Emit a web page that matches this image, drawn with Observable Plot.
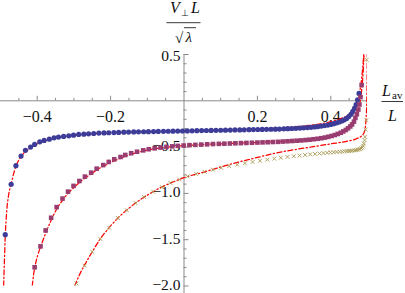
<!DOCTYPE html>
<html><head><meta charset="utf-8">
<script src="https://cdn.jsdelivr.net/npm/d3@7"></script>
<script src="https://cdn.jsdelivr.net/npm/@observablehq/plot@0.6"></script>
<style>html,body{margin:0;padding:0;background:#fff;} svg{display:block;} svg text{font-family:"Liberation Serif",serif;}</style>
</head><body><div id="chart"></div>
<script>
// ---- data ----
const blue = [[-0.487,-1.446],[-0.471,-0.901],[-0.458,-0.701],[-0.444,-0.597],[-0.432,-0.535],[-0.418,-0.500],[-0.407,-0.471],[-0.393,-0.443],[-0.381,-0.428],[-0.367,-0.414],[-0.354,-0.400],[-0.342,-0.392],[-0.328,-0.385],[-0.314,-0.378],[-0.301,-0.371],[-0.287,-0.363],[-0.273,-0.360],[-0.260,-0.357],[-0.246,-0.353],[-0.232,-0.349],
[-0.218,-0.347],[-0.205,-0.345],[-0.191,-0.343],[-0.178,-0.341],[-0.164,-0.339],[-0.151,-0.338],[-0.137,-0.336],[-0.124,-0.335],[-0.110,-0.334],[-0.097,-0.333],[-0.083,-0.332],[-0.070,-0.331],[-0.056,-0.330],[-0.043,-0.329],[-0.030,-0.328],[-0.017,-0.327],[-0.004,-0.326],[0.009,-0.325],[0.022,-0.324],[0.035,-0.323],[0.048,-0.322],[0.061,-0.321],[0.074,-0.320],[0.087,-0.319],[0.100,-0.318],[0.113,-0.317],[0.126,-0.316],[0.139,-0.315],[0.152,-0.314],[0.164,-0.313],[0.177,-0.312],[0.189,-0.311],[0.201,-0.310],[0.213,-0.309],[0.225,-0.308],[0.237,-0.307],[0.249,-0.306],[0.260,-0.305],[0.272,-0.303],[0.283,-0.301],[0.294,-0.299],[0.305,-0.297],[0.316,-0.295],[0.326,-0.292],[0.336,-0.289],[0.346,-0.286],[0.356,-0.282],[0.365,-0.278],[0.374,-0.273],[0.383,-0.268],[0.392,-0.262],[0.400,-0.255],[0.408,-0.247],[0.416,-0.238],[0.423,-0.229],[0.430,-0.218],[0.437,-0.205],[0.443,-0.190],[0.449,-0.170],[0.455,-0.145],[0.460,-0.115],[0.465,-0.080],[0.469,-0.040],[0.473,0.010],[0.477,0.080]];

const squares = [[-0.407,-1.798],[-0.391,-1.572],[-0.377,-1.400],[-0.362,-1.263],[-0.347,-1.148],[-0.331,-1.056],[-0.316,-0.981],[-0.301,-0.919],[-0.285,-0.866],[-0.270,-0.819],[-0.253,-0.776],[-0.238,-0.733],[-0.220,-0.694],[-0.205,-0.660],[-0.190,-0.632],[-0.173,-0.607],[-0.160,-0.585],[-0.144,-0.566],[-0.128,-0.550],[-0.111,-0.535],[-0.096,-0.523],[-0.080,-0.513],[-0.064,-0.505],[-0.048,-0.498],[-0.032,-0.492],[-0.017,-0.487],[-0.001,-0.483],[0.015,-0.479],[0.031,-0.476],[0.047,-0.473],[0.063,-0.470],[0.079,-0.467],[0.095,-0.465],[0.110,-0.463],[0.125,-0.461],[0.140,-0.459],[0.155,-0.457],[0.170,-0.455],[0.185,-0.453],[0.200,-0.451],[0.214,-0.449],[0.228,-0.447],[0.242,-0.445],[0.256,-0.443],[0.269,-0.440],[0.282,-0.437],[0.295,-0.434],[0.307,-0.431],[0.319,-0.428],[0.331,-0.424],[0.342,-0.420],[0.353,-0.415],[0.364,-0.410],[0.374,-0.404],[0.384,-0.397],[0.393,-0.389],[0.402,-0.380],[0.411,-0.370],[0.419,-0.358],[0.427,-0.345],[0.434,-0.331],[0.441,-0.315],[0.447,-0.297],[0.453,-0.277],[0.458,-0.255],[0.463,-0.225],[0.467,-0.185],[0.471,-0.145],[0.475,-0.095],[0.478,-0.040],[0.481,0.040],[0.484,0.170]];

const crosses = [[-0.293,-1.973],[-0.271,-1.780],[-0.250,-1.632],[-0.228,-1.492],[-0.204,-1.371],[-0.180,-1.267],[-0.156,-1.181],[-0.132,-1.105],[-0.109,-1.038],[-0.084,-0.982],[-0.060,-0.932],[-0.037,-0.887],[-0.013,-0.850],[0.010,-0.816],[0.033,-0.790],[0.056,-0.766],[0.079,-0.744],[0.101,-0.724],[0.123,-0.706],[0.145,-0.690],[0.166,-0.675],[0.187,-0.661],[0.207,-0.648],[0.227,-0.636],[0.246,-0.625],[0.264,-0.615],[0.282,-0.606],[0.299,-0.598],[0.315,-0.591],[0.330,-0.585],[0.344,-0.579],[0.357,-0.574],[0.369,-0.569],[0.380,-0.565],[0.390,-0.561],[0.399,-0.558],[0.408,-0.555],[0.416,-0.552],[0.424,-0.550],[0.431,-0.548],[0.438,-0.546],[0.444,-0.544],[0.450,-0.542],[0.455,-0.540],[0.460,-0.538],[0.465,-0.535],[0.469,-0.532],[0.473,-0.529],[0.477,-0.525],[0.480,-0.520],[0.483,-0.513],[0.486,-0.503],[0.488,-0.485],[0.490,-0.460],[0.492,-0.425],[0.493,-0.389],[0.495,-0.310],[0.497,-0.210],[0.4975,0.443]];

const fitBlue = [[-0.4915,-2.0],[-0.4895,-1.75],[-0.487,-1.46],[-0.483,-1.19],[-0.478,-1.02],[-0.471,-0.90],[-0.463,-0.77],[-0.455,-0.68],[-0.444,-0.605],[-0.432,-0.545],[-0.418,-0.505],[-0.400,-0.465],[-0.380,-0.435],[-0.350,-0.405],[-0.300,-0.375],[-0.250,-0.357],[-0.200,-0.345],[-0.100,-0.333],[0.000,-0.325],[0.100,-0.317],[0.200,-0.305],[0.280,-0.288],[0.340,-0.266],[0.390,-0.235],[0.425,-0.195],[0.448,-0.150],[0.462,-0.090],[0.472,-0.010],[0.479,0.100],[0.484,0.240],[0.4875,0.380],[0.4898,0.500]];

const fitSquares = [[-0.4135,-2.0],[-0.410,-1.88],[-0.405,-1.77],[-0.398,-1.66],[-0.390,-1.57],[-0.377,-1.43],[-0.362,-1.29],[-0.347,-1.17],[-0.331,-1.075],[-0.316,-1.0],[-0.300,-0.937],[-0.285,-0.882],[-0.270,-0.836],[-0.253,-0.790],[-0.238,-0.748],[-0.200,-0.668],[-0.150,-0.585],[-0.100,-0.533],[-0.050,-0.502],[0.000,-0.485],[0.100,-0.464],[0.200,-0.450],[0.280,-0.436],[0.340,-0.420],[0.390,-0.390],[0.425,-0.345],[0.448,-0.290],[0.462,-0.225],[0.472,-0.140],[0.479,-0.030],[0.484,0.110],[0.488,0.300],[0.4905,0.500]];

const fitCrosses = [[-0.298,-2.0],[-0.285,-1.88],[-0.271,-1.775],[-0.250,-1.63],[-0.228,-1.49],[-0.204,-1.37],[-0.180,-1.265],[-0.150,-1.16],[-0.120,-1.07],[-0.090,-0.995],[-0.060,-0.93],[-0.030,-0.877],[0.000,-0.83],[0.050,-0.775],[0.100,-0.715],[0.150,-0.66],[0.200,-0.612],[0.250,-0.565],[0.300,-0.528],[0.350,-0.497],[0.400,-0.465],[0.440,-0.440],[0.470,-0.410],[0.485,-0.375],[0.492,-0.330],[0.496,-0.200],[0.498,0.000],[0.499,0.250],[0.4995,0.500]];

const xMajor = [-0.4, -0.2, 0.2, 0.4];
const xMinor = [-0.45,-0.35,-0.3,-0.25,-0.15,-0.1,-0.05,0.05,0.1,0.15,0.25,0.3,0.35,0.45];
const yMajorTop = [0.5];
const yMajor = [-0.5, -1, -1.5, -2];
const yMinor = [0.4,0.3,0.2,0.1,-0.1,-0.2,-0.3,-0.4,-0.6,-0.7,-0.8,-0.9,-1.1,-1.2,-1.3,-1.4,-1.6,-1.7,-1.8,-1.9];

// ---- layout ----
const W = 405, H = 293;
const M = {top: 54, right: 38, bottom: 7.5, left: 0};
const xDomain = [-0.5, 0.5], yDomain = [-2, 0.5];
const pxPerX = (W - M.left - M.right) / (xDomain[1] - xDomain[0]);
const pxPerY = (H - M.top - M.bottom) / (yDomain[1] - yDomain[0]);
const axisColor = "#8a8a8a";
const serif = "Liberation Serif";
const fmt = d3.format(".1f");
const lineStyle = {x: d => d[0], y: d => d[1], stroke: "#ff0000", strokeWidth: 1.25, strokeDasharray: "5,2.4,1.3,2.4", curve: "monotone-x", clip: true};
const txt = {fontFamily: serif, fill: "#111", textAnchor: "start", lineAnchor: "bottom", text: d => d};
const yLab = {x: 0, y: d => d, text: d => fmt(d), dx: -3.5, textAnchor: "end", fontSize: 15.5, fontFamily: serif, fill: "#111", lineAnchor: "middle"};

const chart = Plot.plot({
  width: W, height: H,
  marginTop: M.top, marginRight: M.right, marginBottom: M.bottom, marginLeft: M.left,
  x: {domain: xDomain, axis: null},
  y: {domain: yDomain, axis: null},
  style: {background: "#fff", fontFamily: serif, overflow: "visible"},
  marks: [
    Plot.ruleY([0], {stroke: axisColor, strokeWidth: 1}),
    Plot.ruleX([0], {stroke: axisColor, strokeWidth: 1, insetBottom: -8}),
    Plot.ruleX(xMajor, {x: d => d, y1: 0, y2: 4.5 / pxPerY, stroke: axisColor}),
    Plot.ruleX(xMinor, {x: d => d, y1: 0, y2: 2.5 / pxPerY, stroke: axisColor}),
    Plot.ruleY([...yMajorTop, ...yMajor], {y: d => d, x1: 0, x2: 5 / pxPerX, stroke: axisColor}),
    Plot.ruleY(yMinor, {y: d => d, x1: 0, x2: 3 / pxPerX, stroke: axisColor}),
    Plot.text(xMajor, {x: d => d, y: 0, text: d => fmt(d), dy: 16, fontSize: 16, fontFamily: serif, fill: "#111", lineAnchor: "middle"}),
    Plot.text(yMajorTop, {...yLab, dy: 2}),
    Plot.text(yMajor, {...yLab, dy: -1}),
    // fitted curves
    Plot.line(fitBlue, lineStyle),
    Plot.line(fitSquares, lineStyle),
    Plot.line(fitCrosses, lineStyle),
    // points
    Plot.dot(blue, {x: d => d[0], y: d => d[1], r: 2.6, fill: "#3d3d99", stroke: "none"}),
    Plot.dot(squares, {x: d => d[0], y: d => d[1], symbol: "square", r: 2.6, fill: "#993d71", stroke: "none"}),
    Plot.dot(crosses, {x: d => d[0], y: d => d[1], symbol: "times", r: 1.9, stroke: "#a89a55", strokeWidth: 0.9, fill: "none"}),
    // y-axis label  V⊥ L / √λ
    Plot.text(["V"], {...txt, x: 0, frameAnchor: "top", dx: -14, dy: -41.5, fontSize: 16, fontStyle: "italic"}),
    Plot.text(["⊥"], {...txt, x: 0, frameAnchor: "top", dx: -3.5, dy: -39, fontSize: 9}),
    Plot.text(["L"], {...txt, x: 0, frameAnchor: "top", dx: 7, dy: -41.5, fontSize: 16, fontStyle: "italic"}),
    Plot.text(["√"], {...txt, x: 0, frameAnchor: "top", dx: -9, dy: -11.5, fontSize: 15}),
    Plot.text(["λ"], {...txt, x: 0, frameAnchor: "top", dx: 1.5, dy: -12.5, fontSize: 15, fontStyle: "italic"}),
    // x-axis label  L_av / L
    Plot.text(["L"], {...txt, x: 0.5, y: 0, dx: 14.5, dy: -4.5, fontSize: 16, fontStyle: "italic"}),
    Plot.text(["av"], {...txt, x: 0.5, y: 0, dx: 24.5, dy: -1.5, fontSize: 11}),
    Plot.text(["L"], {...txt, x: 0.5, y: 0, dx: 20.5, dy: 20.5, fontSize: 16, fontStyle: "italic"})
  ]
});

// fraction bars and radical overbar, positioned from the plot's own scales
const sx = chart.scale("x"), sy = chart.scale("y");
const x0 = sx.apply(0), yTop = sy.apply(yDomain[1]), xEnd = sx.apply(xDomain[1]), y0 = sy.apply(0);
const svg = d3.select(chart);
const bars = [
  [x0 - 17, yTop - 31.3, x0 + 17, yTop - 31.3],
  [x0 + 0.5, yTop - 26.3, x0 + 12.5, yTop - 26.3],
  [xEnd + 14.5, y0 + 1.2, xEnd + 36, y0 + 1.2]
];
svg.append("g").attr("stroke", "#222").attr("stroke-width", 0.9)
  .selectAll("line").data(bars).join("line")
  .attr("x1", d => d[0]).attr("y1", d => d[1]).attr("x2", d => d[2]).attr("y2", d => d[3]);

document.getElementById("chart").append(chart);
</script>
</body></html>
